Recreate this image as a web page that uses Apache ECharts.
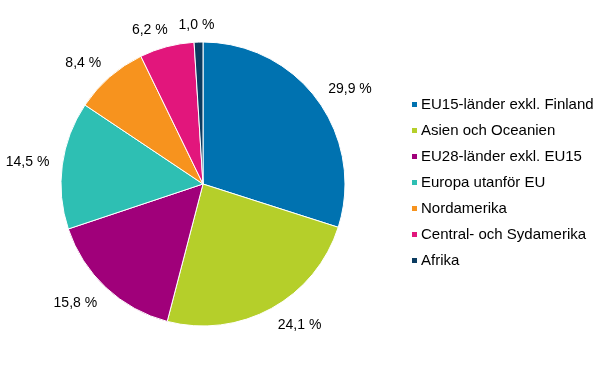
<!DOCTYPE html>
<html><head><meta charset="utf-8">
<script src="https://cdn.jsdelivr.net/npm/echarts@6/dist/echarts.min.js"></script>
<style>html,body{margin:0;padding:0;background:#fff}#c{width:612px;height:367px}</style>
</head><body><div id="c"></div>
<script>
const categories = ["EU15-länder exkl. Finland","Asien och Oceanien","EU28-länder exkl. EU15","Europa utanför EU","Nordamerika","Central- och Sydamerika","Afrika"];
const values = [29.9, 24.1, 15.8, 14.5, 8.4, 6.2, 1.0];
const colors = ["#0072B0","#B5CF2A","#A0007A","#2EBFB3","#F7931E","#E2167C","#0B3B60"];
const CX = 203, CY = 184, R = 142, GAP = 13;
const total = values.reduce((a,b)=>a+b,0);
const midAngles = [];
{ let cum = 0; values.forEach(v=>{ midAngles.push((cum + v/2)/total*2*Math.PI); cum += v; }); }
const clamp = v => Math.max(-1, Math.min(1, v));
const chart = echarts.init(document.getElementById('c'), null, {renderer:'canvas'});
chart.setOption({
  animation:false,
  color: colors,
  legend:{
    orient:'vertical', left:405, top:92, itemGap:11, itemWidth:7, itemHeight:7, icon:'rect',
    textStyle:{fontFamily:'Liberation Sans, Arial', fontSize:15, lineHeight:15, color:'#000', padding:[0,0,0,-2]},
    data: categories
  },
  series:[{
    type:'pie', center:[CX,CY], radius:[0,R], startAngle:90, clockwise:true,
    avoidLabelOverlap:false,
    data: categories.map((n,i)=>({name:n, value:values[i]})),
    itemStyle:{borderColor:'#fff', borderWidth:1},
    label:{show:true, position:'outside', overflow:'none', formatter:p=>p.value.toFixed(1).replace('.',',')+' %',
      fontFamily:'Liberation Sans, Arial', fontSize:14, lineHeight:16, color:'#000'},
    labelLine:{show:false, length:10, length2:0},
    labelLayout: function(params){
      const a = midAngles[params.dataIndex];
      const dx = Math.sin(a), dy = -Math.cos(a);
      const w = params.labelRect.width, h = params.labelRect.height;
      const d = R + GAP;
      return { x: CX + dx*d + clamp(3*dx)*w/2, y: CY + dy*d + clamp(3*dy)*h*0.3 + 1,
               align:'center', verticalAlign:'middle', hideOverlap:false };
    }
  }]
});
</script></body></html>
